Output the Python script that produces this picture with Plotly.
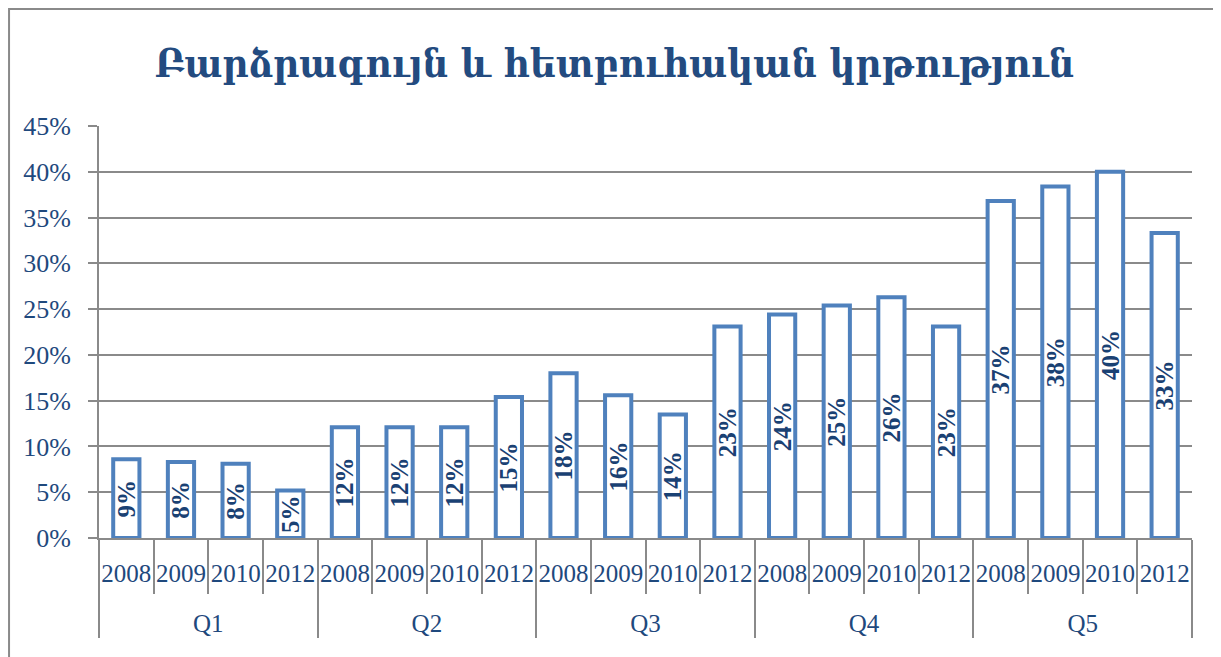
import plotly.graph_objects as go

title = "Բարձրագույն և հետբուհական կրթություն"
groups = ["Q1", "Q2", "Q3", "Q4", "Q5"]
years = ["2008", "2009", "2010", "2012"]
values = {
    "Q1": [0.086, 0.083, 0.081, 0.052],
    "Q2": [0.121, 0.121, 0.121, 0.154],
    "Q3": [0.180, 0.156, 0.135, 0.231],
    "Q4": [0.244, 0.254, 0.263, 0.231],
    "Q5": [0.368, 0.384, 0.400, 0.333],
}
ytick_vals = [0, 0.05, 0.10, 0.15, 0.20, 0.25, 0.30, 0.35, 0.40, 0.45]

xg, xy, yv = [], [], []
for g in groups:
    for y, v in zip(years, values[g]):
        xg.append(g)
        xy.append(y + "<br>\u00a0")
        yv.append(v)

DARK = "#1F497D"
BLUE = "#4F81BD"
GRID = "#8A8A8A"
SERIF = "Liberation Serif, DejaVu Serif, serif"

fig = go.Figure()
fig.add_trace(go.Bar(
    x=[xg, xy], y=yv,
    marker=dict(color="white", line=dict(color=BLUE, width=4)),
    text=[f"{round(v*100):.0f}%" for v in yv],
    textposition="inside", insidetextanchor="middle", textangle=-90,
    constraintext="none",
    textfont=dict(family=SERIF, size=25, color="#1A4173", weight="bold"),
    hoverinfo="skip",
))

fig.update_layout(
    width=1213, height=649,
    margin=dict(l=91, r=29, t=118, b=119),
    paper_bgcolor="white", plot_bgcolor="white",
    bargap=0.52,
    showlegend=False,
    title=dict(text=title, x=0.5, xanchor="center", y=0.915, yanchor="middle",
               font=dict(family="DejaVu Serif Condensed, DejaVu Serif, serif", size=40,
                         color="#234B80", weight="bold")),
    shapes=[dict(type="rect", xref="paper", yref="paper",
                 x0=-0.0823, x1=1.0247, y0=-0.4, y1=1.284,
                 line=dict(color=GRID, width=2), fillcolor="rgba(0,0,0,0)", layer="below")],
)
fig.update_yaxes(
    range=[0, 0.45], tickvals=ytick_vals, tickformat=".0%",
    showgrid=True, gridcolor=GRID, gridwidth=2,
    showline=True, linecolor=GRID, linewidth=2,
    ticks="outside", ticklen=9, tickcolor=GRID, tickwidth=2,
    tickfont=dict(family=SERIF, size=26, color=DARK),
    ticklabelstandoff=12,
    zeroline=False, automargin=False,
)
fig.update_xaxes(
    type="multicategory",
    showline=True, linecolor=GRID, linewidth=2,
    ticks="outside", ticklen=54, tickcolor=GRID, tickwidth=2,
    tickangle=0,
    showdividers=True, dividercolor=GRID, dividerwidth=2,
    tickfont=dict(family=SERIF, size=25, color=DARK),
    ticklabelstandoff=12,
    automargin=False,
)

fig.write_html("out.html")
